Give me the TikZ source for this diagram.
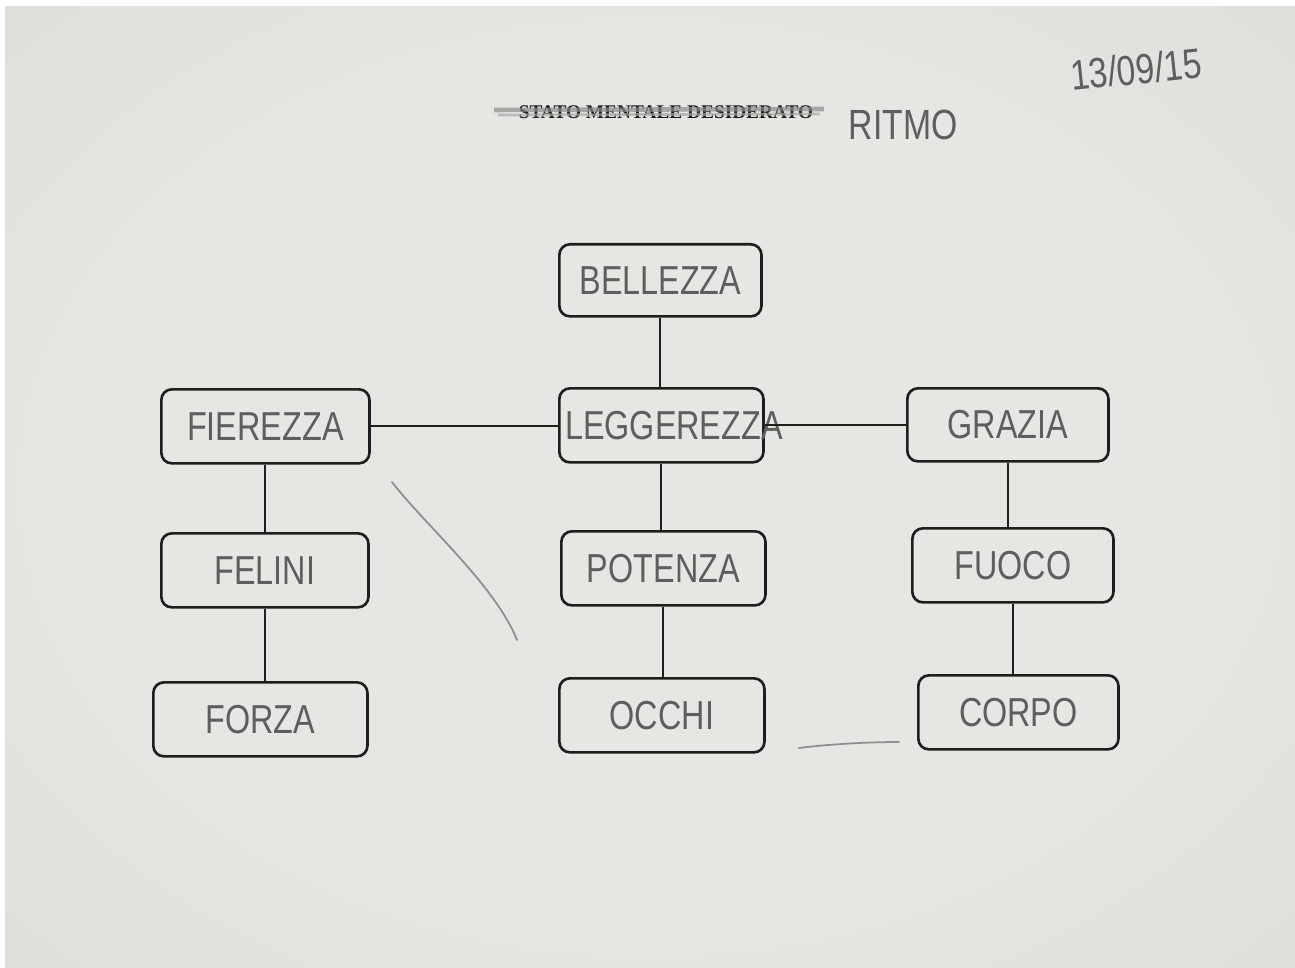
\documentclass[tikz,border=0pt]{standalone}
\usepackage{fontspec}
\setmainfont{Liberation Serif}
\newfontfamily\handfont[FakeStretch=0.8]{Liberation Sans}
\usetikzlibrary{calc}

\definecolor{paperIn}{HTML}{E6E7E3}
\definecolor{paperMid}{HTML}{D6D7D3}
\definecolor{paperOut}{HTML}{ADAFAA}
\definecolor{pencilGray}{HTML}{5E5F5C}
\definecolor{inkBlack}{HTML}{1E1E1E}
\pgfdeclareradialshading{paperShade}{\pgfpoint{0bp}{0bp}}{%
  color(0bp)=(paperIn); color(22bp)=(paperIn); color(50bp)=(paperMid); color(72bp)=(paperOut)}

\begin{document}
\begin{tikzpicture}[
  x=0.01cm, y=-0.01cm,
  box/.style={
    draw=inkBlack,
    rounded corners=3pt,
    line width=0.75pt,
    anchor=north west,
    inner sep=0pt,
    font=\handfont\fontsize{11.5}{14}\selectfont,
    text=pencilGray
  },
  link/.style={draw=inkBlack, line width=0.6pt},
  hand/.style={font=\handfont\fontsize{12}{14}\selectfont, text=pencilGray, inner sep=0pt},
  pencil/.style={draw=pencilGray!70, line width=0.5pt, line cap=round}
]

\useasboundingbox (0,0) rectangle (1295,967);
\fill[white] (0,0) rectangle (1295,967);
\shade[shading=paperShade] (5,7) rectangle (1295,967);

\node[font=\bfseries\fontsize{5.5}{6}\selectfont, text=black!90, inner sep=0pt] (title) at (666,112) {STATO MENTALE DESIDERATO};
\draw[draw=black!45, line width=1.3pt, opacity=0.7] ([xshift=-0.24cm,yshift=0.02cm]title.west) -- ([xshift=0.1cm,yshift=0.03cm]title.east);
\draw[draw=black!35, line width=0.8pt, opacity=0.7] ([xshift=-0.2cm,yshift=-0.03cm]title.west) -- ([xshift=0.06cm,yshift=-0.02cm]title.east);
\node[hand, anchor=west] (ritmo) at (848,125) {RITMO};
\node[hand, anchor=west, rotate=6] (date) at (1070,76) {13/09/15};

\node[box, minimum width=2.02cm, minimum height=0.72cm] (bellezzaBox) at (558,243) {BELLEZZA};
\node[box, minimum width=2.08cm, minimum height=0.74cm] (fierezzaBox) at (160,388) {FIEREZZA};
\node[box, minimum width=2.04cm, minimum height=0.74cm] (leggerezzaBox) at (558,387) {\makebox[0pt]{\hspace{0.25cm}LEGGEREZZA}};
\node[box, minimum width=2.01cm, minimum height=0.73cm] (graziaBox) at (906,387) {GRAZIA};
\node[box, minimum width=2.07cm, minimum height=0.74cm] (feliniBox) at (160,532) {FELINI};
\node[box, minimum width=2.04cm, minimum height=0.74cm] (potenzaBox) at (560,530) {POTENZA};
\node[box, minimum width=2.01cm, minimum height=0.74cm] (fuocoBox) at (911,527) {FUOCO};
\node[box, minimum width=2.14cm, minimum height=0.74cm] (forzaBox) at (152,681) {FORZA};
\node[box, minimum width=2.05cm, minimum height=0.74cm] (occhiBox) at (558,677) {OCCHI};
\node[box, minimum width=2.00cm, minimum height=0.74cm] (corpoBox) at (917,674) {CORPO};

\draw[link] (bellezzaBox.south) -- (bellezzaBox.south |- leggerezzaBox.north);
\draw[link] (fierezzaBox.east) -- (fierezzaBox.east -| leggerezzaBox.west);
\draw[link] (leggerezzaBox.east) -- (leggerezzaBox.east -| graziaBox.west);
\draw[link] (fierezzaBox.south) -- (fierezzaBox.south |- feliniBox.north);
\draw[link] (feliniBox.south) -- (feliniBox.south |- forzaBox.north);
\draw[link] (leggerezzaBox.south) -- (leggerezzaBox.south |- potenzaBox.north);
\draw[link] (potenzaBox.south) -- (potenzaBox.south |- occhiBox.north);
\draw[link] (graziaBox.south) -- (graziaBox.south |- fuocoBox.north);
\draw[link] (fuocoBox.south) -- (fuocoBox.south |- corpoBox.north);

\draw[pencil] (392,482) .. controls (425,525) and (495,585) .. (517,640);
\draw[pencil] (799,748) .. controls (830,744) and (870,742) .. (899,742);

\end{tikzpicture}
\end{document}
